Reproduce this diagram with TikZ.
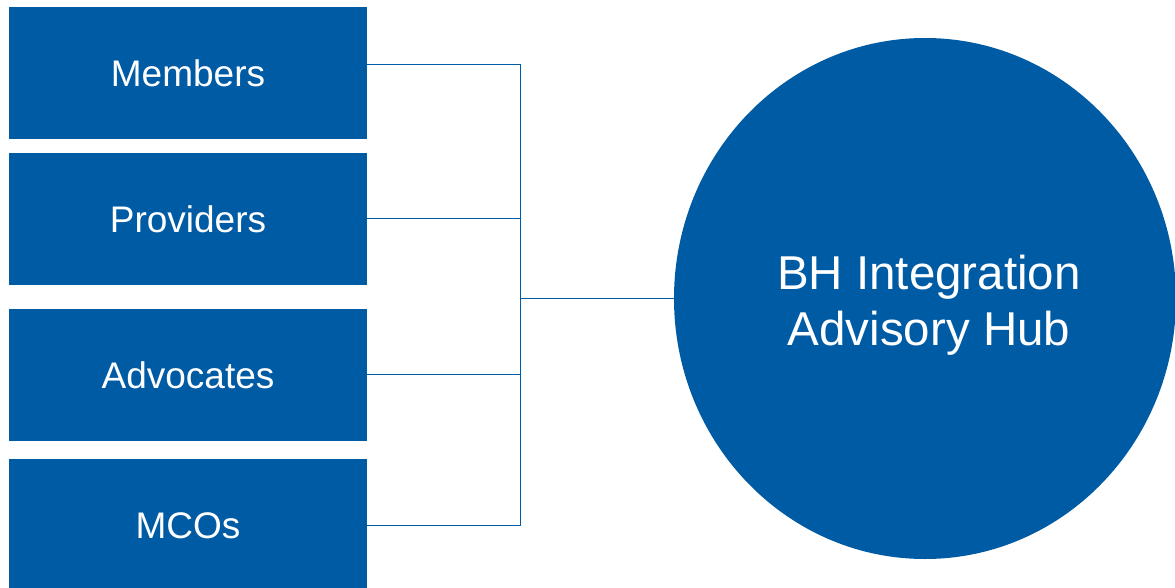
\documentclass[tikz,border=0pt]{standalone}
\usepackage{fontspec}
\newfontfamily\hubfont{Liberation Sans}
\usetikzlibrary{shapes.geometric}
\definecolor{hubblue}{RGB}{0,91,165}
\tikzset{
  group/.style={rectangle, fill=hubblue, draw=none, inner sep=0pt,
    minimum width=358pt, minimum height=131.7pt, text=white,
    font=\hubfont\fontsize{37}{44}\selectfont,
    text height=26.5pt, text depth=0pt},
  hubdisc/.style={ellipse, fill=hubblue, draw=none, inner sep=0pt,
    minimum width=502pt, minimum height=521pt},
  hublabel/.style={text=white, align=center, inner sep=0pt,
    font=\hubfont\fontsize{47.5}{56.3}\selectfont},
  link/.style={draw=hubblue, line width=1.2pt}
}
\begin{document}
\begin{tikzpicture}[x=1pt, y=-1pt]
  \useasboundingbox (0,0) rectangle (1175,588);
  \clip (0,0) rectangle (1175,588);

  % stakeholder groups
  \node[group] (b1) at (188,72.9) {Members};
  \node[group] (b2) at (188,218.8) {Providers};
  \node[group] (b3) at (188,374.8) {Advocates};
  \node[group] (b4) at (188,525.3) {MCOs};

  % advisory hub
  \node[hubdisc] (hub) at (925,298.5) {};
  \node[hublabel] (hubtext) at (929,305) {BH Integration\\Advisory Hub};

  % bracket joining the groups to the hub
  \draw[link] ([yshift=8pt]b1.east) -- ++(153,0) coordinate (bus)
    -- (bus |- b4.east) -- (b4.east);
  \draw[link] (b2.east) -- (bus |- b2.east);
  \draw[link] (b3.east) -- (bus |- b3.east);
  \draw[link] (bus |- hub.west) -- (hub.west);
\end{tikzpicture}
\end{document}
